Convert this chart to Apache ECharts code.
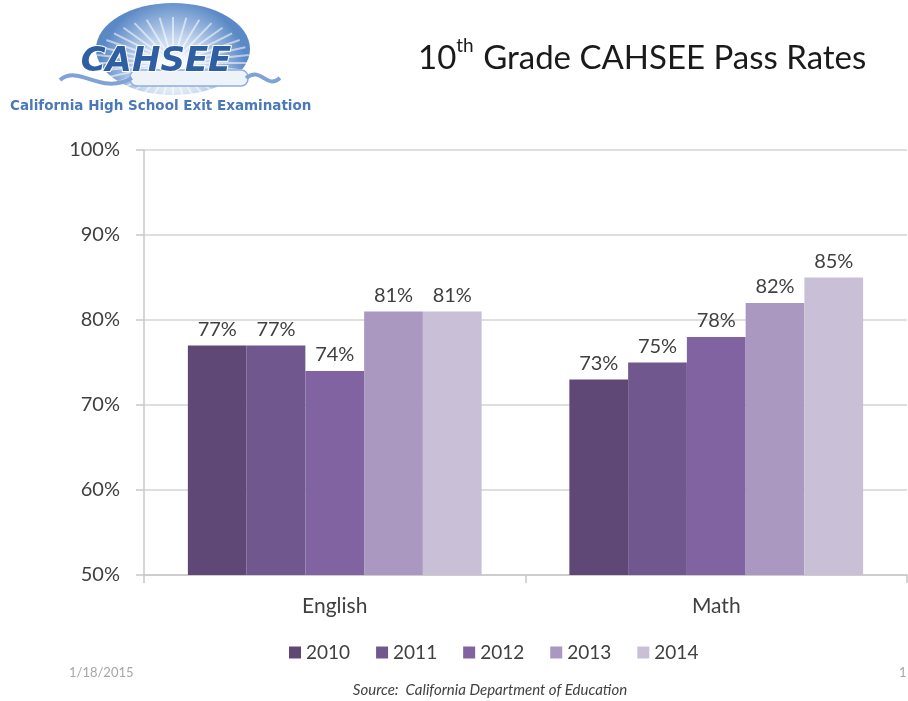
<!DOCTYPE html>
<html>
<head>
<meta charset="utf-8">
<style>
  html, body { margin: 0; padding: 0; background: #ffffff; }
  #chart { width: 908px; height: 701px; }
</style>
<script src="https://cdn.jsdelivr.net/npm/echarts@6/dist/echarts.min.js"></script>
</head>
<body>
<div id="chart"></div>
<script>
// Pass rates by subject and year (percent)
var subjects = ['English', 'Math'];
var years = ['2010', '2011', '2012', '2013', '2014'];
var rates2010 = [77, 73];
var rates2011 = [77, 75];
var rates2012 = [74, 78];
var rates2013 = [81, 82];
var rates2014 = [81, 85];
var yTicks = { min: 50, max: 100, step: 10 };

var yearColors = ['#5f4876', '#70578d', '#8163a1', '#aa98c0', '#c9c0d8'];
var seriesValues = [rates2010, rates2011, rates2012, rates2013, rates2014];
var FONT = 'Lato, "Open Sans", sans-serif';

var chart = echarts.init(document.getElementById('chart'), null, { renderer: 'canvas' });

// Logo: sunburst ellipse, scroll and wordmark
var logo = [];
var cx = 173, cy = 49, rx = 77, ry = 46;
logo.push({
  type: 'ellipse',
  shape: { cx: cx, cy: cy, rx: rx, ry: ry },
  style: {
    fill: new echarts.graphic.RadialGradient(0.5, 0.75, 0.8, [
      { offset: 0, color: '#ffffff' },
      { offset: 0.45, color: '#c9daf0' },
      { offset: 1, color: '#5b89c6' }
    ])
  },
  z: 1
});
for (var i = 0; i < 36; i++) {
  var a = (i / 36) * Math.PI * 2;
  logo.push({
    type: 'line',
    shape: { x1: cx, y1: cy + 14, x2: cx + Math.cos(a) * rx, y2: cy + 14 + Math.sin(a) * ry },
    style: { stroke: 'rgba(255,255,255,0.55)', lineWidth: 2 },
    z: 2
  });
}
logo.push({
  type: 'rect',
  shape: { x: 130, y: 70, width: 118, height: 16, r: 7 },
  style: { fill: '#eef3fa', stroke: '#8fb0dc', lineWidth: 1.5 },
  z: 3
});
logo.push({
  type: 'bezierCurve',
  shape: { x1: 60, y1: 80, cpx1: 80, cpy1: 64, cpx2: 100, cpy2: 96, x2: 132, y2: 78 },
  style: { stroke: '#7ea3d4', lineWidth: 4, fill: null },
  z: 3
});
logo.push({
  type: 'bezierCurve',
  shape: { x1: 246, y1: 78, cpx1: 262, cpy1: 66, cpx2: 266, cpy2: 90, x2: 280, y2: 78 },
  style: { stroke: '#7ea3d4', lineWidth: 4, fill: null },
  z: 3
});
logo.push({
  type: 'text',
  x: 156, y: 62,
  style: {
    text: 'CAHSEE',
    font: 'italic bold 34px "DejaVu Sans", sans-serif',
    fill: '#2f5fa3',
    stroke: '#ffffff',
    lineWidth: 2,
    align: 'center',
    verticalAlign: 'middle'
  },
  z: 4
});
logo.push({
  type: 'text',
  x: 10, y: 106,
  style: {
    text: 'California High School Exit Examination',
    font: 'bold 13.5px "DejaVu Sans", sans-serif',
    fill: '#4a78b8',
    verticalAlign: 'middle'
  },
  z: 4
});

var option = {
  backgroundColor: '#ffffff',
  animation: false,
  textStyle: { fontFamily: FONT },
  title: {
    text: '{n|10}{s|th}{n| Grade CAHSEE Pass Rates}',
    left: 413,
    top: 31,
    textStyle: {
      rich: {
        n: { fontFamily: FONT, fontSize: 33, fontWeight: 'normal', color: '#1a1a1a', verticalAlign: 'bottom', lineHeight: 39 },
        s: { fontFamily: FONT, fontSize: 19, fontWeight: 'normal', color: '#1a1a1a', verticalAlign: 'top', lineHeight: 39, padding: [0, 1, 15, 0] }
      }
    }
  },
  legend: {
    data: years,
    left: 284,
    top: 638,
    icon: 'rect',
    itemWidth: 12,
    itemHeight: 12,
    itemGap: 26,
    textStyle: { fontFamily: FONT, fontSize: 19, color: '#404040' }
  },
  grid: { left: 144, right: 1, top: 150, bottom: 126, containLabel: false },
  xAxis: {
    type: 'category',
    data: subjects,
    axisLine: { lineStyle: { color: '#c8c8c8', width: 1.5 } },
    axisTick: { show: true, length: 8, lineStyle: { color: '#c8c8c8', width: 1.5 } },
    axisLabel: { fontFamily: FONT, fontSize: 21, color: '#404040', margin: 21 }
  },
  yAxis: {
    type: 'value',
    min: yTicks.min,
    max: yTicks.max,
    interval: yTicks.step,
    axisLine: { show: true, lineStyle: { color: '#c8c8c8', width: 1.5 } },
    axisTick: { show: true, length: 8, lineStyle: { color: '#c8c8c8', width: 1.5 } },
    axisLabel: { formatter: '{value}%', fontFamily: FONT, fontSize: 20, color: '#404040', margin: 24 },
    splitLine: { lineStyle: { color: '#d4d4d4', width: 1.5 } }
  },
  series: years.map(function (y, i) {
    return {
      name: y,
      type: 'bar',
      data: seriesValues[i],
      barGap: '0%',
      barCategoryGap: '23%',
      itemStyle: { color: yearColors[i] },
      label: {
        show: true,
        position: 'top',
        distance: 6,
        formatter: '{c}%',
        fontFamily: FONT,
        fontSize: 20,
        color: '#404040'
      }
    };
  }),
  graphic: logo.concat([
    {
      type: 'text', x: 69, y: 673,
      style: { text: '1/18/2015', font: '13px ' + FONT, fill: '#a6a6a6', verticalAlign: 'middle' }
    },
    {
      type: 'text', x: 899, y: 673,
      style: { text: '1', font: '13px ' + FONT, fill: '#a6a6a6', verticalAlign: 'middle' }
    },
    {
      type: 'text', x: 490, y: 690,
      style: { text: 'Source:  California Department of Education', font: 'italic 15px ' + FONT, fill: '#404040', align: 'center', verticalAlign: 'middle' }
    }
  ])
};

chart.setOption(option);
</script>
</body>
</html>
